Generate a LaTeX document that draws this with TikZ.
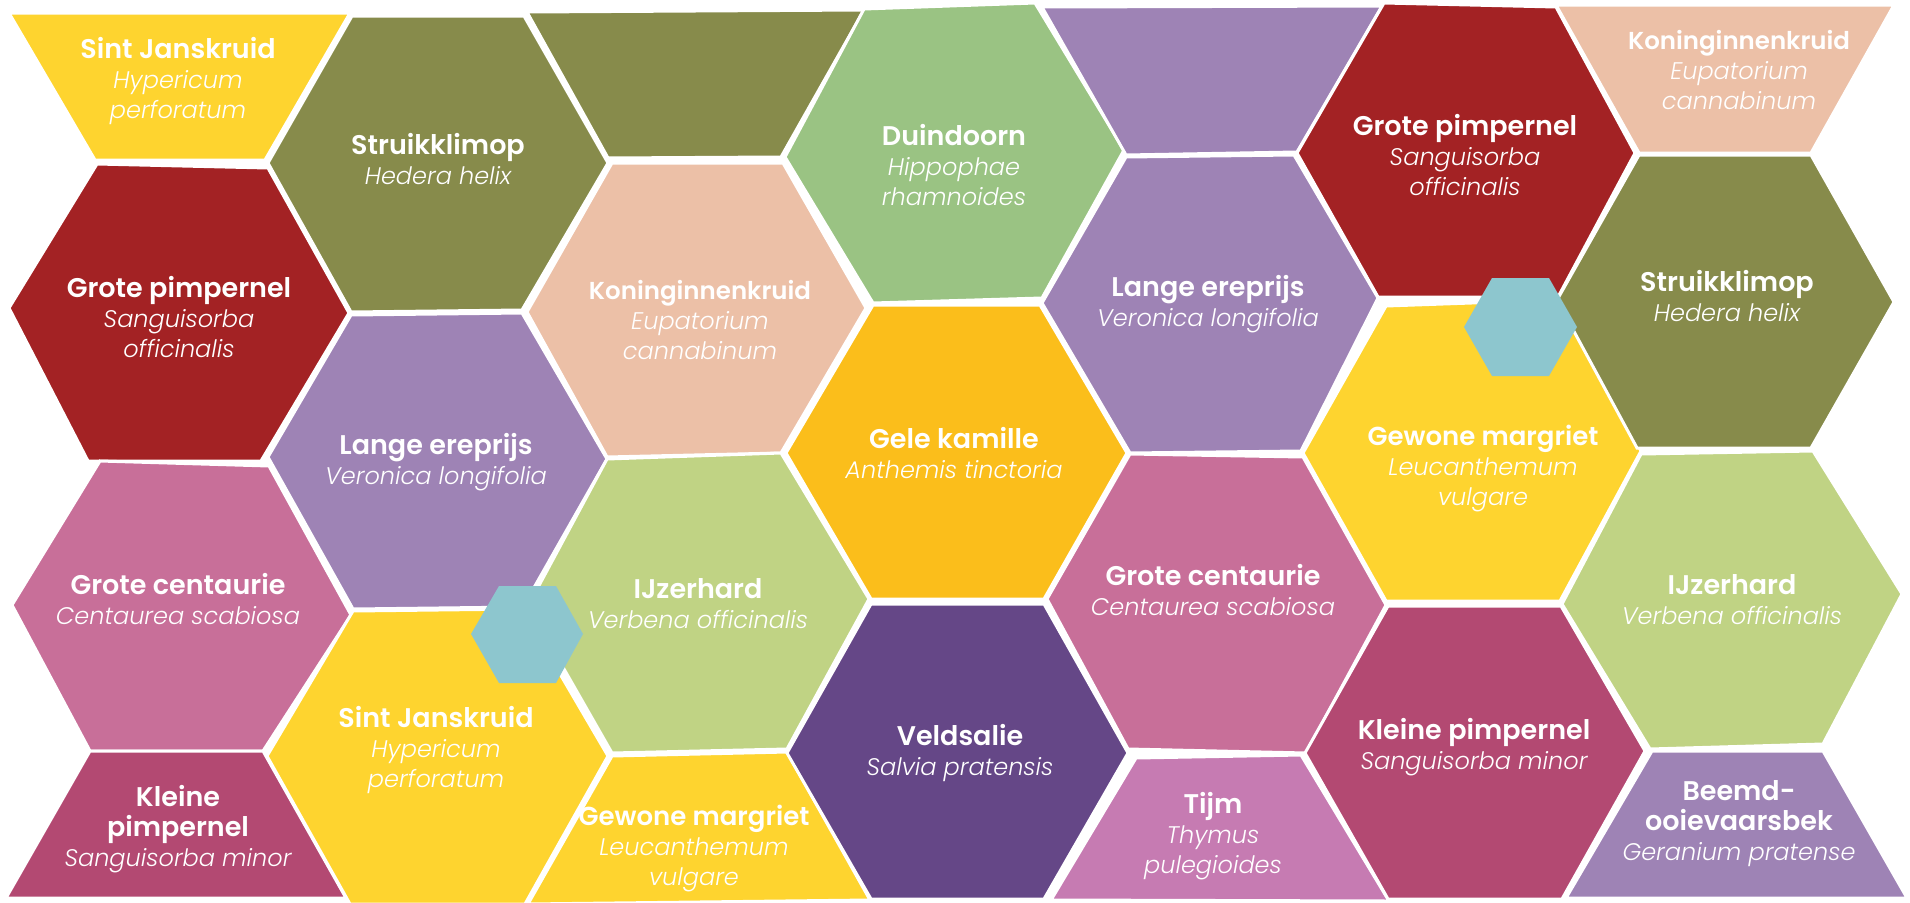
\documentclass[tikz,border=0pt]{standalone}
\usepackage{fontspec}
\newfontfamily\nmfont{Poppins SemiBold}
\newfontfamily\scifont{Poppins Light Italic}
\newcommand\nmt[2][27]{{\fontsize{#1}{30}\selectfont\nmfont #2}}
\newcommand\sci[1]{{\fontsize{24}{30}\selectfont\scifont #1}}
\definecolor{cyellow}{HTML}{FED42F}
\definecolor{colive}{HTML}{878B4B}
\definecolor{cred}{HTML}{A32224}
\definecolor{clav}{HTML}{9E83B5}
\definecolor{cpink}{HTML}{C86F99}
\definecolor{crose}{HTML}{B34972}
\definecolor{cpeach}{HTML}{ECC0A7}
\definecolor{cgreen}{HTML}{9AC383}
\definecolor{corange}{HTML}{FBBE1B}
\definecolor{clgreen}{HTML}{C0D384}
\definecolor{cdpurple}{HTML}{654787}
\definecolor{ctijm}{HTML}{C67BB2}
\definecolor{cteal}{HTML}{8DC6CE}
\tikzset{
  tile/.style={fill=#1, draw=white, line width=3pt, line join=miter},
  dot/.style={fill=cteal},
  lbl/.style={text=white, align=center, inner sep=0pt, font=\fontsize{24}{30}\selectfont}
}
\begin{document}
\begin{tikzpicture}[x=1pt,y=-1pt]
\useasboundingbox (0,0) rectangle (1910,902);
\fill[white] (0,0) rectangle (1910,902);
% column 1
\path[tile=cyellow] (9,13)--(350,13)--(265,160)--(95,160)--cycle;
\path[tile=cred] (97,164)--(268,168)--(349,313)--(261,461)--(88,461)--(9,308)--cycle;
\path[tile=cpink] (100,461)--(269,466)--(351,615)--(263,751)--(90,751)--(12,605)--cycle;
\path[tile=crose] (90,751)--(263,751)--(346,898)--(6,898)--cycle;
% column 2
\path[tile=colive] (352,16)--(524,16)--(608,163)--(522,310)--(351,312)--(268,163)--cycle;
\path[tile=clav] (351,315)--(522,313)--(607,459)--(523,607)--(353,609)--(268,457)--cycle;
\path[tile=cyellow] (353,611)--(522,609)--(608,756)--(525,904)--(350,904)--(267,756)--cycle;
% column 3
\path[tile=colive] (527,12)--(864,10)--(781,157)--(608,158)--cycle;
\path[tile=cpeach] (612,163)--(783,163)--(866,308)--(781,453)--(607,457)--(527,312)--cycle;
\path[tile=clgreen] (607,459)--(781,453)--(869,599)--(787,749)--(612,753)--(528,606)--cycle;
\path[tile=cyellow] (612,756)--(787,752)--(870,900)--(528,904)--cycle;
% column 4
\path[tile=cgreen] (864,9)--(1035,3)--(1124,150)--(1042,298)--(873,303)--(785,157)--cycle;
\path[tile=corange] (873,305)--(1040,305)--(1127,453)--(1044,599)--(871,599)--(786,453)--cycle;
\path[tile=cdpurple] (871,604)--(1044,604)--(1128,753)--(1044,899)--(871,899)--(787,753)--cycle;
% column 5
\path[tile=clav] (1042,7)--(1382,6)--(1297,152)--(1126,155)--cycle;
\path[tile=clav] (1126,157)--(1294,155)--(1378,298)--(1301,451)--(1130,453)--(1042,303)--cycle;
\path[tile=cpink] (1130,454)--(1303,457)--(1386,605)--(1306,753)--(1128,749)--(1047,599)--cycle;
\path[tile=ctijm] (1136,758)--(1301,755)--(1389,901)--(1051,900)--cycle;
% column 6
\path[tile=cred] (1384,3)--(1556,7)--(1635,153)--(1558,297)--(1378,297)--(1297,153)--cycle;
\path[tile=cyellow] (1386,306)--(1557,300)--(1641,451)--(1560,601)--(1386,601)--(1303,453)--cycle;
\path[tile=crose] (1388,606)--(1561,606)--(1645,751)--(1562,899)--(1388,899)--(1305,753)--cycle;
% column 7
\path[tile=cpeach] (1556,5)--(1894,5)--(1811,153)--(1639,153)--cycle;
\path[tile=colive] (1639,155)--(1811,155)--(1894,302)--(1811,448)--(1637,448)--(1557,300)--cycle;
\path[tile=clgreen] (1641,454)--(1813,451)--(1902,594)--(1823,744)--(1650,749)--(1562,604)--cycle;
\path[tile=clav] (1652,751)--(1823,751)--(1907,898)--(1566,898)--cycle;
% small teal hexagons
\path[dot] (499,586)--(556,586)--(583,634)--(556,683)--(499,683)--(471,634)--cycle;
\path[dot] (1492,278)--(1549,278)--(1577,327)--(1549,376)--(1492,376)--(1464,327)--cycle;
% labels
\node[lbl] (t1) at (178,81) {\nmt{Sint Janskruid}\\\sci{Hypericum}\\\sci{perforatum}};
\node[lbl] (t2) at (438,159) {\nmt{Struikklimop}\\\sci{Hedera helix}};
\node[lbl] (t3) at (954,165) {\nmt{Duindoorn}\\\sci{Hippophae}\\\sci{rhamnoides}};
\node[lbl] (t4) at (1465,155) {\nmt{Grote pimpernel}\\\sci{Sanguisorba}\\\sci{officinalis}};
\node[lbl] (t5) at (1739,70) {\nmt[24.5]{Koninginnenkruid}\\\sci{Eupatorium}\\\sci{cannabinum}};
\node[lbl] (t6) at (179,317) {\nmt{Grote pimpernel}\\\sci{Sanguisorba}\\\sci{officinalis}};
\node[lbl] (t7) at (700,320) {\nmt[24.5]{Koninginnenkruid}\\\sci{Eupatorium}\\\sci{cannabinum}};
\node[lbl] (t8) at (1208,304) {\nmt{Lange ereprijs}\\\sci{Veronica longifolia}};
\node[lbl] (t9) at (1727,296) {\nmt{Struikklimop}\\\sci{Hedera helix}};
\node[lbl] (t10) at (436,462) {\nmt{Lange ereprijs}\\\sci{Veronica longifolia}};
\node[lbl] (t11) at (954,453) {\nmt{Gele kamille}\\\sci{Anthemis tinctoria}};
\node[lbl] (t12) at (1483,469) {\nmt[26]{Gewone margriet}\\\sci{Leucanthemum}\\\sci{vulgare}};
\node[lbl] (t13) at (178,599) {\nmt{Grote centaurie}\\\sci{Centaurea scabiosa}};
\node[lbl] (t14) at (698,604) {\nmt{IJzerhard}\\\sci{Verbena officinalis}};
\node[lbl] (t15) at (1213,590) {\nmt{Grote centaurie}\\\sci{Centaurea scabiosa}};
\node[lbl] (t16) at (1732,600) {\nmt{IJzerhard}\\\sci{Verbena officinalis}};
\node[lbl] (t17) at (436,750) {\nmt{Sint Janskruid}\\\sci{Hypericum}\\\sci{perforatum}};
\node[lbl] (t18) at (960,753) {\nmt{Veldsalie}\\\sci{Salvia pratensis}};
\node[lbl] (t19) at (1474,747) {\nmt{Kleine pimpernel}\\\sci{Sanguisorba minor}};
\node[lbl] (t20) at (178,829) {\nmt{Kleine}\\\nmt{pimpernel}\\\sci{Sanguisorba minor}};
\node[lbl] (t21) at (694,849) {\nmt[26]{Gewone margriet}\\\sci{Leucanthemum}\\\sci{vulgare}};
\node[lbl] (t22) at (1213,836) {\nmt{Tijm}\\\sci{Thymus}\\\sci{pulegioides}};
\node[lbl] (t23) at (1739,824) {\nmt{Beemd-}\\\nmt{ooievaarsbek}\\\sci{Geranium pratense}};
\end{tikzpicture}
\end{document}
